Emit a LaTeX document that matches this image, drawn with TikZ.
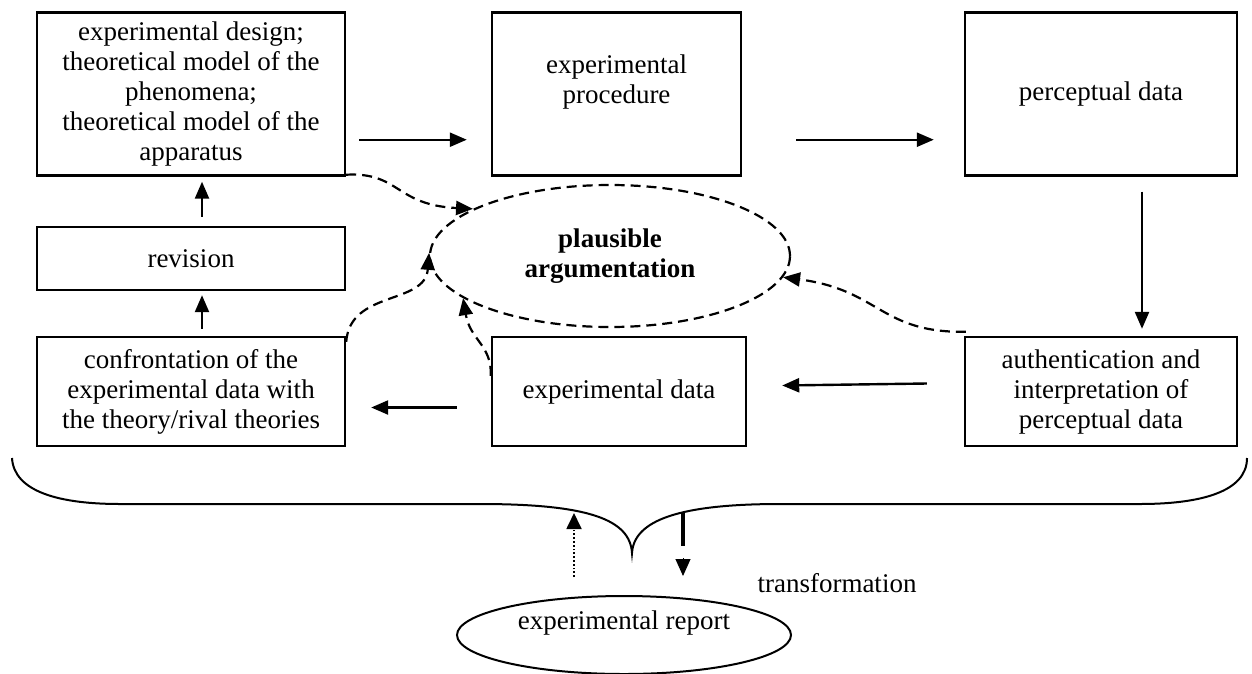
\documentclass[tikz,border=0pt]{standalone}
\usepackage{fontspec}
\setmainfont{Liberation Serif}
\usetikzlibrary{calc,arrows.meta,shapes.geometric}
\begin{document}
\begin{tikzpicture}[x=1pt,y=-1pt,
  box/.style={draw,line width=2.4pt,rectangle,align=center,inner sep=0pt,font=\fontsize{27}{30}\selectfont},
  oval/.style={ellipse,align=center,inner sep=0pt,font=\fontsize{27}{30}\selectfont},
  arr/.style={-{Triangle[length=17pt,width=14pt]},line width=2.4pt},
  darr/.style={dash pattern=on 10pt off 6pt,line width=2.2pt,-{Triangle[length=17pt,width=14pt]}},
  txt/.style={font=\fontsize{27}{30}\selectfont}]
\useasboundingbox (0,0) rectangle (1252,673);

\node[box,minimum width=308pt,minimum height=163pt] (b1) at (191,94)
  {experimental design;\\theoretical model of the\\phenomena;\\theoretical model of the\\apparatus};
\node[box,minimum width=249pt,minimum height=163pt] (b2) at (616.5,94)
  {experimental\\procedure\\\mbox{}};
\node[box,minimum width=272pt,minimum height=163pt] (b3) at (1101,94) {perceptual data};
\node[box,minimum width=308pt,minimum height=63pt] (rev) at (191,258.5) {revision};
\node[box,minimum width=308pt,minimum height=109pt] (conf) at (191,391.5)
  {confrontation of the\\experimental data with\\the theory/rival theories};
\node[box,minimum width=254pt,minimum height=109pt] (ed) at (619,391.5) {experimental data};
\node[box,minimum width=272pt,minimum height=109pt] (auth) at (1101,391.5)
  {authentication and\\interpretation of\\perceptual data};

\node[oval,draw,dash pattern=on 10pt off 6pt,line width=2.2pt,minimum width=360pt,minimum height=142pt,
  font=\fontsize{27}{30}\selectfont\bfseries] (pa) at (610,256) {plausible\\argumentation};
\node[oval,draw,line width=2pt,minimum width=334pt,minimum height=78pt] (rep) at (624,635)
  {experimental report\\\mbox{}};
\node[txt] (tr) at (837,583) {transformation};

% solid arrows
\draw[arr] ($(b1.south east)+(13,-37)$) -- ($(b2.south west)+(-24,-37)$);
\draw[arr] ($(b2.south east)+(54,-37)$) -- ($(b3.south west)+(-30,-37)$);
\draw[arr] ($(b3.south)+(41,15)$) -- ($(auth.north)+(41,-7)$);
\draw[arr] ($(auth.west)+(-37,-8)$) -- ($(ed.east)+(35,-6)$);
\draw[arr] ($(ed.west)+(-34,16)$) -- ($(conf.east)+(25,16)$);
\draw[arr] ($(conf.north)+(11,-7)$) -- ($(rev.south)+(11,4)$);
\draw[arr] ($(rev.north)+(11,-9)$) -- ($(b1.south)+(11,5)$);

% dashed arrows
\draw[darr] ($(b1.south east)+(0,-2)$) .. controls (400,172) and (395,205) .. (pa.161.6);
\draw[darr] ($(conf.north east)+(0,6)$) .. controls (350,290) and (425,305) .. (pa.179);
\draw[darr] ($(ed.north west)+(0,40)$) .. controls (492,345) and (470,340) .. (pa.196);
\draw[darr] ($(auth.north west)+(2,-4)$) .. controls (880,333) and (880,290) .. (pa.353);

% brace
\draw[line width=2pt] (12,458) .. controls (14,492) and (60,504) .. (120,504) -- (480,504)
  .. controls (590,504) and (630,520) .. (632,553)
  .. controls (634,520) and (680,504) .. (780,504) -- (1140,504)
  .. controls (1200,504) and (1247,492) .. (1247,458);

% transformation arrows
\coordinate (u1) at (574,577);
\coordinate (u2) at (574,513);
\draw[dotted,line width=1.8pt,-{Triangle[length=16pt,width=15pt]}] (u1) -- (u2);
\coordinate (d1) at (683,512);
\coordinate (d2) at (683,546);
\coordinate (d3) at (683,576);
\draw[line width=4.5pt] (d1) -- (d2);
\draw[line width=1pt,-{Triangle[length=17pt,width=15pt]}] ($(d3)+(0,-18)$) -- (d3);
\end{tikzpicture}
\end{document}
